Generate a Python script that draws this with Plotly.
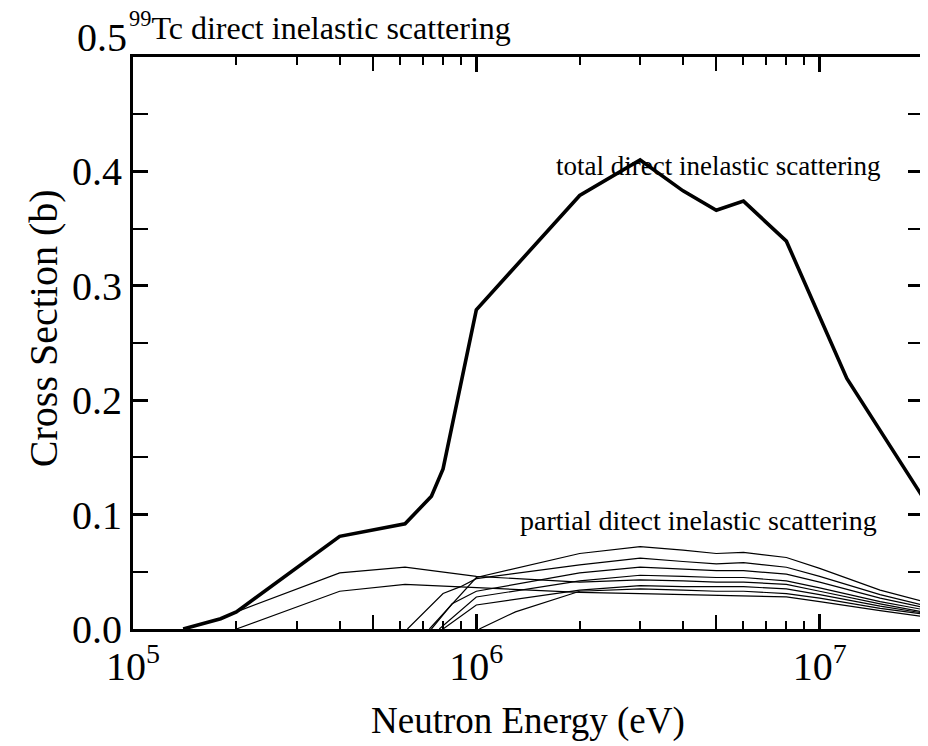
import plotly.graph_objects as go

# ---------------- data ----------------
total_E = [1.4e5, 1.8e5, 2e5, 4e5, 6.2e5, 7.4e5, 8e5, 1e6, 2e6, 3e6, 4e6, 5e6, 6e6, 8e6, 1e7, 1.2e7, 2e7]
total_xs = [0.0, 0.009, 0.015, 0.081, 0.092, 0.116, 0.14, 0.279, 0.379, 0.41, 0.383, 0.366, 0.374, 0.339, 0.273, 0.219, 0.115]

high_E = [2e6, 3e6, 4e6, 5e6, 6e6, 8e6, 1e7, 1.5e7, 2e7]

pA_E = [1.4e5, 1.8e5, 2e5, 4e5, 6.2e5, 1e6] + high_E
pA_xs = [0.0, 0.009, 0.015, 0.049, 0.054, 0.046, 0.041, 0.043, 0.042, 0.041, 0.041, 0.039, 0.033, 0.022, 0.015]

pB_E = [2e5, 4e5, 6.2e5, 1e6] + high_E
pB_xs = [0.0, 0.033, 0.039, 0.036, 0.032, 0.031, 0.030, 0.029, 0.029, 0.028, 0.024, 0.016, 0.011]

pC_E = [6.3e5, 8e5, 9e5, 1e6] + high_E
pC_xs = [0.0, 0.031, 0.037, 0.044, 0.056, 0.062, 0.059, 0.057, 0.058, 0.054, 0.046, 0.030, 0.021]

pD_E = [7.3e5, 1e6] + high_E
pD_xs = [0.0, 0.045, 0.066, 0.072, 0.069, 0.066, 0.067, 0.0625, 0.053, 0.034, 0.024]

pE_E = [7.4e5, 8.5e5, 1e6] + high_E
pE_xs = [0.0, 0.022, 0.033, 0.049, 0.054, 0.052, 0.051, 0.051, 0.048, 0.041, 0.027, 0.019]

pF_E = [7.8e5, 1e6] + high_E
pF_xs = [0.0, 0.028, 0.042, 0.047, 0.046, 0.045, 0.045, 0.042, 0.036, 0.024, 0.017]

pG_E = [8e5, 1e6] + high_E
pG_xs = [0.0, 0.021, 0.034, 0.038, 0.037, 0.037, 0.037, 0.035, 0.030, 0.020, 0.014]

pH_E = [1.02e6, 1.3e6] + high_E
pH_xs = [0.0, 0.015, 0.033, 0.035, 0.034, 0.033, 0.033, 0.031, 0.027, 0.018, 0.013]

partials = [(pA_E, pA_xs), (pB_E, pB_xs), (pC_E, pC_xs), (pD_E, pD_xs),
            (pE_E, pE_xs), (pF_E, pF_xs), (pG_E, pG_xs), (pH_E, pH_xs)]

x_major = [1e5, 1e6, 1e7]
x_major_text = ["10<sup>5</sup>", "10<sup>6</sup>", "10<sup>7</sup>"]
x_minor = [m * d for d in (1e5, 1e6) for m in range(2, 10)]
x_mid = [5e5, 5e6]
y_ticks = [0.0, 0.1, 0.2, 0.3, 0.4, 0.5]
y_tick_text = ["0.0", "0.1", "0.2", "0.3", "0.4", ""]

FONT = "Liberation Serif, Times New Roman, serif"

fig = go.Figure()
for E, xs in partials:
    fig.add_trace(go.Scatter(x=E, y=xs, mode="lines",
                             line=dict(color="black", width=1.2), showlegend=False))
fig.add_trace(go.Scatter(x=total_E, y=total_xs, mode="lines",
                         line=dict(color="black", width=3.6), showlegend=False))

xr = [5, 7.30103]
fig.update_layout(
    width=920, height=738,
    margin=dict(l=125, r=2, t=49, b=117),
    paper_bgcolor="white", plot_bgcolor="white",
    font=dict(family=FONT, color="black"),
    xaxis=dict(type="log", range=xr, tickvals=x_major, ticktext=x_major_text,
               ticks="inside", ticklen=15, tickwidth=2.5, tickcolor="black",
               showline=True, linecolor="black", linewidth=3, mirror="allticks",
               showgrid=False, zeroline=False,
               tickfont=dict(size=40, family=FONT),
               minor=dict(tickvals=x_minor, ticks="inside", ticklen=8,
                          tickwidth=2, tickcolor="black", showgrid=False)),
    xaxis2=dict(type="log", range=xr, overlaying="x", anchor="y", side="bottom",
                tickvals=x_mid, showticklabels=False, ticks="inside", ticklen=14,
                tickwidth=2, tickcolor="black", showline=True, linecolor="black",
                linewidth=3, mirror="allticks", showgrid=False, zeroline=False),
    yaxis=dict(range=[0, 0.5], tickvals=y_ticks, ticktext=y_tick_text,
               ticks="inside", ticklen=15, tickwidth=2.5, tickcolor="black",
               showline=True, linecolor="black", linewidth=3, mirror="allticks",
               showgrid=False, zeroline=False,
               tickfont=dict(size=40, family=FONT),
               minor=dict(dtick=0.05, ticks="inside", ticklen=9,
                          tickwidth=2, tickcolor="black", showgrid=False)),
)
# invisible point on xaxis2 so the overlay axis renders
fig.add_trace(go.Scatter(x=[1e6], y=[0.0], xaxis="x2", mode="markers",
                         marker=dict(opacity=0), showlegend=False, hoverinfo="skip"))

# top y tick label sits raised above its tick in the reference
fig.add_annotation(text="0.5", xref="paper", yref="paper", x=0, y=1,
                   xanchor="right", yanchor="middle", xshift=-4, yshift=20,
                   showarrow=False, font=dict(size=40, family=FONT))
fig.add_annotation(text="<sup>99</sup>Tc direct inelastic scattering",
                   xref="paper", yref="paper", x=0, y=1.0, xanchor="left",
                   yanchor="bottom", xshift=-6, yshift=9, showarrow=False,
                   font=dict(size=32, family=FONT))
fig.add_annotation(text="total direct inelastic scattering", xref="x", yref="y",
                   x=6.704, y=0.405, showarrow=False, font=dict(size=27, family=FONT))
fig.add_annotation(text="partial ditect inelastic scattering", xref="x", yref="y",
                   x=6.646, y=0.095, showarrow=False, font=dict(size=28, family=FONT))
fig.add_annotation(text="Neutron Energy (eV)", xref="paper", yref="paper",
                   x=0.5, y=0, yshift=-92, xanchor="center", yanchor="middle",
                   showarrow=False, font=dict(size=37, family=FONT))
fig.add_annotation(text="Cross Section (b)", xref="paper", yref="paper",
                   x=0, xshift=-90, y=0.526, textangle=-90, xanchor="center",
                   yanchor="middle", showarrow=False, font=dict(size=40, family=FONT))

fig.write_html("out.html")
